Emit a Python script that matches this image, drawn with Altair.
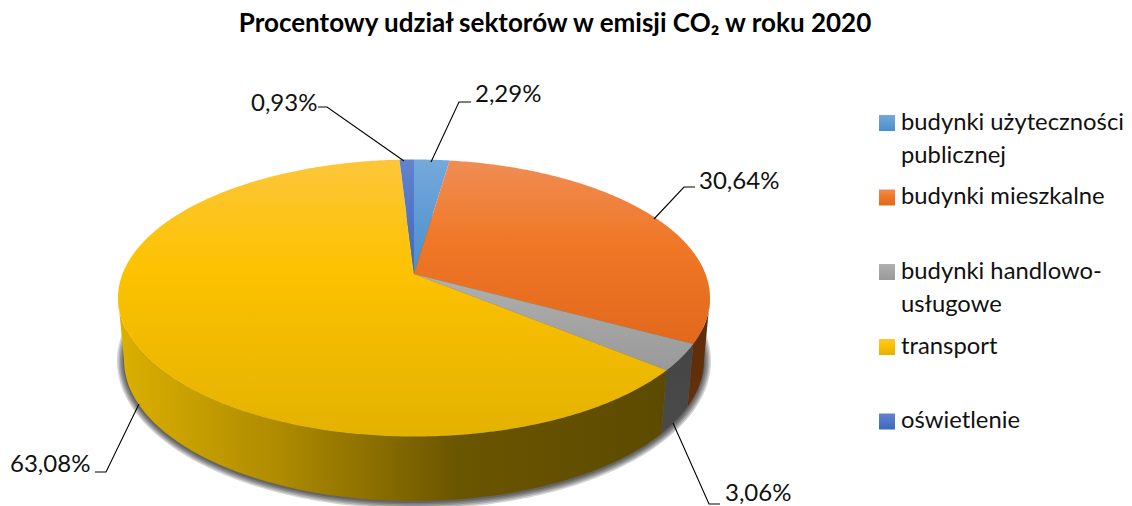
import numpy as np
import altair as alt

TITLE = "Procentowy udział sektorów w emisji CO₂ w roku 2020"
sectors = ["budynki użyteczności\npublicznej", "budynki mieszkalne",
           "budynki handlowo-\nusługowe", "transport", "oświetlenie"]
shares = [2.29, 30.64, 3.06, 63.08, 0.93]
share_labels = ["2,29%", "30,64%", "3,06%", "63,08%", "0,93%"]
top_stops = [
    [(0, "#74a9dc"), (1, "#4a8ecb")],
    [(0, "#f08d55"), (0.45, "#ef7726"), (1, "#e2691c")],
    [(0, "#b0b0b0"), (1, "#999999")],
    [(0, "#fdc63a"), (0.4, "#fdc200"), (1, "#e3b200")],
    [(0, "#6383cc"), (1, "#3d68c0")],
]
swatch_y = [123, 197.5, 272, 347, 421.5]
text_y = [130, 204, 279, 354, 428]
label_x = [475, 699, 725, 10, 251]
label_y = [102, 189, 501, 472, 111]
leaders = [
    [(431, 162), (459, 102), (471, 102)],
    [(654, 219), (684, 187), (695, 187)],
    [(673, 423), (709, 504), (720, 504)],
    [(139, 404), (106, 472), (95, 472)],
    [(404, 161), (327, 107), (318, 107)],
]

# picture geometry of the tilted disc
CX, CY, RX, RY, APEX = 414.0, 298.0, 296.0, 138.5, 24.0
BOT_CY, BOT_RX, BOT_RY = 360.0, 290.0, 141.0
p = -APEX / RY
c = RX * np.sqrt(1 - p * p)


def top(theta):
    X, Y = np.sin(theta), -np.cos(theta)
    d = 1 + p * Y
    return CX + c * X / d, CY + (RY * Y - APEX) / d


def bottom(theta):
    x, y = top(theta)
    return CX + (x - CX) * BOT_RX / RX, BOT_CY + (y - CY) * BOT_RY / RY


def feature(xs, ys, name, share=None):
    ring = [[float(a), float(b)] for a, b in zip(xs, ys)]
    ring.append(ring[0])
    return {"type": "Feature", "properties": {"name": name, "share": share},
            "geometry": {"type": "Polygon", "coordinates": [ring]}}


PROJ = alt.Projection(type="identity", scale=1, translate=[-8, -8])


def shape(feat, fill, **kw):
    return alt.Chart(alt.Data(values=[feat])).mark_geoshape(
        fill=fill, strokeWidth=0, strokeOpacity=0, **kw).project(**PROJ.to_dict())


def grad(stops, horizontal=False):
    return alt.LinearGradient(
        gradient="linear",
        x1=0, x2=1 if horizontal else 0, y1=0, y2=0 if horizontal else 1,
        stops=[alt.GradientStop(offset=o, color=col) for o, col in stops])


edges = np.concatenate([[0], np.cumsum(shares)]) / sum(shares) * 2 * np.pi
layers = []

# soft shadow below the disc
t = np.linspace(0, 2 * np.pi, 240)
for grow in [7, 5.5, 4, 2.5, 1]:
    layers.append(shape(feature(CX + (BOT_RX + grow) * np.sin(t),
                                BOT_CY + 1 + (BOT_RY + grow) * np.cos(t), "cień"),
                        "#000000", opacity=0.17))

# side walls (only the front-facing part)
sil_r = np.pi - np.arcsin(np.sqrt(1 - p * p))
wall = [
    (1, sil_r, edges[2], [(0, "#5e2c08"), (1, "#62300a")], False),
    (2, edges[2], edges[3], [(0, "#454545"), (1, "#4a4a4a")], False),
    (3, edges[3], 2 * np.pi - sil_r,
     [(0, "#dcb000"), (0.3, "#ad8a00"), (0.62, "#6a5500"), (1, "#5c4a00")], True),
]
for i, a, b, stops, hor in wall:
    tt = np.linspace(a, b, 120)
    tx, ty = top(tt)
    bx, by = bottom(tt[::-1])
    layers.append(shape(feature(np.r_[tx, bx], np.r_[ty, by], sectors[i], shares[i]),
                        grad(stops, hor)))

# top faces
for i, name in enumerate(sectors):
    tt = np.linspace(edges[i], edges[i + 1], max(8, int(shares[i] * 6)))
    x, y = top(tt)
    layers.append(shape(feature(np.r_[CX, x], np.r_[CY - APEX, y], name, shares[i]),
                        grad(top_stops[i])))

xs = alt.X("x:Q", axis=None, scale=alt.Scale(domain=[8, 1124], nice=False, zero=False))
ys = alt.Y("y:Q", axis=None, scale=alt.Scale(domain=[506, 8], nice=False, zero=False))

# leader lines
rows = [{"x": a, "y": b, "k": i, "o": j}
        for i, path in enumerate(leaders) for j, (a, b) in enumerate(path)]
layers.append(alt.Chart(alt.Data(values=rows)).mark_line(
    color="#000000", strokeWidth=1.1, clip=True).encode(
    x=xs, y=ys, detail="k:N", order="o:Q"))

# percent labels
rows = [{"x": a, "y": b, "t": s}
        for a, b, s in zip(label_x, label_y, share_labels)]
layers.append(alt.Chart(alt.Data(values=rows)).mark_text(
    align="left", baseline="alphabetic", font="Lato", fontSize=24,
    color="#111111").encode(x=xs, y=ys, text="t:N"))

# legend
for i, name in enumerate(sectors):
    layers.append(alt.Chart(alt.Data(values=[{"x": 887, "y": swatch_y[i]}])).mark_point(
        shape="square", size=256, filled=True, opacity=1,
        fill=grad(top_stops[i]), strokeWidth=0).encode(x=xs, y=ys))
rows = [{"x": 901, "y": b, "t": s} for b, s in zip(text_y, sectors)]
layers.append(alt.Chart(alt.Data(values=rows)).mark_text(
    align="left", baseline="alphabetic", font="Lato", fontSize=23.8,
    color="#111111", lineBreak="\n", lineHeight=33).encode(x=xs, y=ys, text="t:N"))

# title
layers.append(alt.Chart(alt.Data(values=[{"x": 555, "y": 32, "t": TITLE}])).mark_text(
    align="center", baseline="alphabetic", font="Lato", fontSize=26, fontWeight="bold",
    color="#000000").encode(x=xs, y=ys, text="t:N"))

chart = alt.layer(*layers).properties(
    width=1116, height=498, padding=0, autosize=alt.AutoSizeParams(type="none"),
).configure_view(stroke=None)

chart.save("out.html", embed_options={"renderer": "svg", "actions": False})
